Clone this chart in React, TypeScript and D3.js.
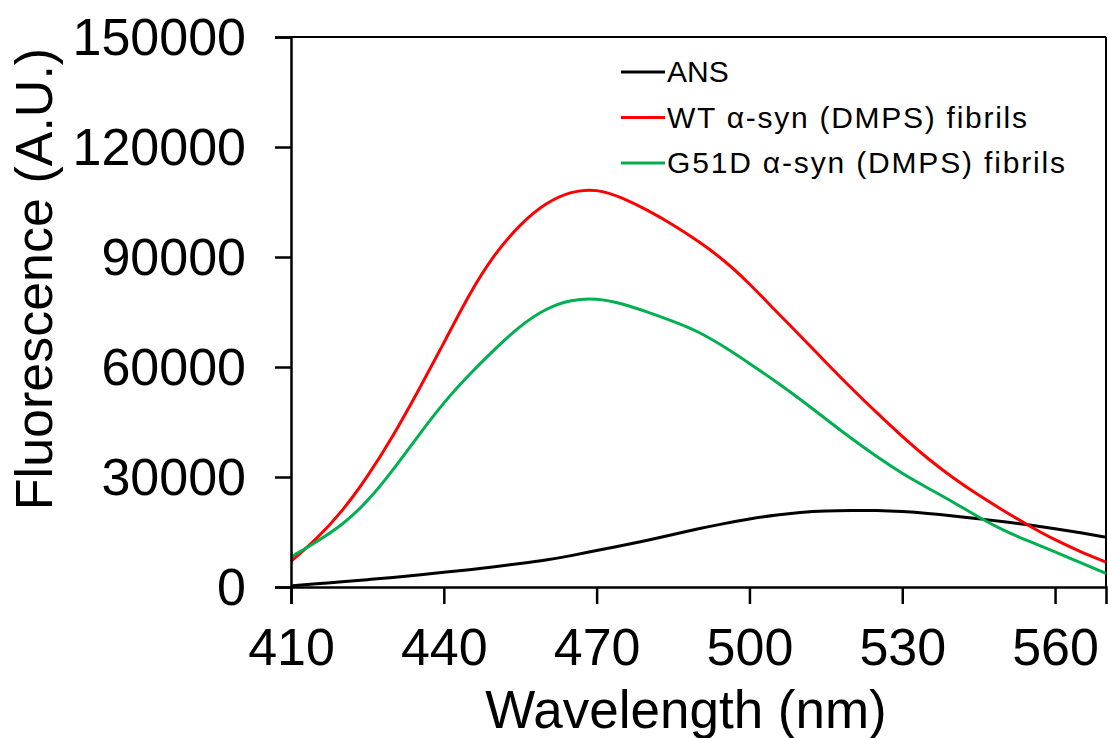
import React, { useEffect, useRef } from "react";
import { axisBottom, axisLeft, curveBasis, format, line, scaleLinear, select } from "d3";

// wavelength grid (nm), read every 5 nm off the spectrum
const wavelengths = [
  410, 415, 420, 425, 430, 435, 440, 445, 450, 455, 460, 465, 470, 475, 480, 485, 490,
  495, 500, 505, 510, 515, 520, 525, 530, 535, 540, 545, 550, 555, 560, 565, 570,
];

const ansValues = [
  300, 900, 1400, 2000, 2600, 3300, 4000, 4700, 5500, 6400, 7300, 8500, 10000, 11300,
  12700, 14300, 15900, 17300, 18600, 19600, 20400, 20800, 20900, 20900, 20600, 20100,
  19400, 18600, 17800, 16900, 15900, 14800, 13600,
];

const wtValues = [
  7000, 13000, 20500, 30000, 41000, 53500, 66500, 80000, 91000, 99000, 104800, 108000,
  108600, 106200, 102800, 98800, 94300, 89200, 82800, 75500, 68500, 61300, 54200, 47500,
  41000, 35000, 29700, 25000, 20700, 16600, 12800, 9600, 6800,
];

const g51dValues = [
  8200, 12300, 16800, 23200, 31800, 41300, 50400, 58000, 64900, 71300, 76000, 78400,
  78800, 77300, 75000, 72500, 69700, 65600, 61000, 56200, 51200, 45800, 40500, 35500,
  30900, 27000, 23200, 19000, 15300, 12400, 9600, 6600, 3700,
];

const xTicks = [410, 440, 470, 500, 530, 560];
const yTicks = [0, 30000, 60000, 90000, 120000, 150000];

const seriesNames = ["ANS", "WT α-syn (DMPS) fibrils", "G51D α-syn (DMPS) fibrils"];
const seriesColors = ["#000000", "#ff0000", "#00b050"];

const FONT = "Arial, 'Liberation Sans', sans-serif";

export default function App() {
  const width = 1108;
  const height = 738;
  const margin = { left: 291, right: 2, top: 37, bottom: 151 };
  const innerWidth = width - margin.left - margin.right;
  const innerHeight = height - margin.top - margin.bottom;

  const xScale = scaleLinear().domain([410, 570]).range([0, innerWidth]);
  const yScale = scaleLinear().domain([0, 150000]).range([innerHeight, 0]);

  // legend text widths as they appear in the figure
  const legendTextLength = [null, 360, 398];

  const svgRef = useRef<SVGSVGElement>(null);

  useEffect(() => {
    document.body.style.margin = "0";
    const svg = select(svgRef.current);
    const g = svg.select(".plot");

    const xAxis = axisBottom(xScale).tickValues(xTicks).tickSize(17).tickPadding(24);
    const yAxis = axisLeft(yScale)
      .tickValues(yTicks)
      .tickSize(16)
      .tickPadding(29)
      .tickFormat(format("d") as any);

    const gx = g.select(".x-axis").attr("transform", `translate(0,${innerHeight})`).call(xAxis as any);
    const gy = g.select(".y-axis").call(yAxis as any);

    [gx, gy].forEach((ax) => {
      ax.selectAll(".domain").attr("stroke", "#000").attr("stroke-width", 2.5);
      ax.selectAll(".tick line").attr("stroke", "#000").attr("stroke-width", 2.5);
      ax.selectAll(".tick text")
        .attr("fill", "#000")
        .style("font-family", FONT)
        .style("font-size", "52px");
    });
    gx.selectAll(".tick text").attr("dy", "0.71em");
    gy.selectAll(".tick text").attr("dy", "0.34em");

    const spectrum = line<number>()
      .x((_, i) => xScale(wavelengths[i]))
      .y((d) => yScale(d))
      .curve(curveBasis);

    g.select(".lines")
      .selectAll("path")
      .data([ansValues, wtValues, g51dValues])
      .join("path")
      .attr("d", (d) => spectrum(d))
      .attr("fill", "none")
      .attr("stroke", (_, i) => seriesColors[i])
      .attr("stroke-width", 3);
  }, []);

  return (
    <svg ref={svgRef} width={width} height={height} style={{ display: "block", background: "#fff" }}>
      <g className="plot" transform={`translate(${margin.left},${margin.top})`}>
        <line x1={0} x2={innerWidth} y1={0} y2={0} stroke="#000" strokeWidth={2} />
        <line x1={innerWidth} x2={innerWidth} y1={0} y2={innerHeight} stroke="#000" strokeWidth={2} />
        <g className="lines" />
        <g className="x-axis" />
        <g className="y-axis" />
        <g className="legend" transform="translate(330,35)">
          {seriesNames.map((name, i) => (
            <g key={name} transform={`translate(0,${i * 45.5})`}>
              <line x1={0} x2={44} y1={0} y2={0} stroke={seriesColors[i]} strokeWidth={3} />
              <text
                x={46}
                y={10}
                fontFamily={FONT}
                fontSize={30}
                fill="#000"
                {...(legendTextLength[i] ? { textLength: legendTextLength[i], lengthAdjust: "spacing" } : {})}
              >
                {name}
              </text>
            </g>
          ))}
        </g>
      </g>
      <text x={686} y={728} textAnchor="middle" fontFamily={FONT} fontSize={53} fill="#000">
        Wavelength (nm)
      </text>
      <text
        transform="translate(52,279) rotate(-90)"
        textAnchor="middle"
        fontFamily={FONT}
        fontSize={52}
        fill="#000"
      >
        Fluorescence (A.U.)
      </text>
    </svg>
  );
}
